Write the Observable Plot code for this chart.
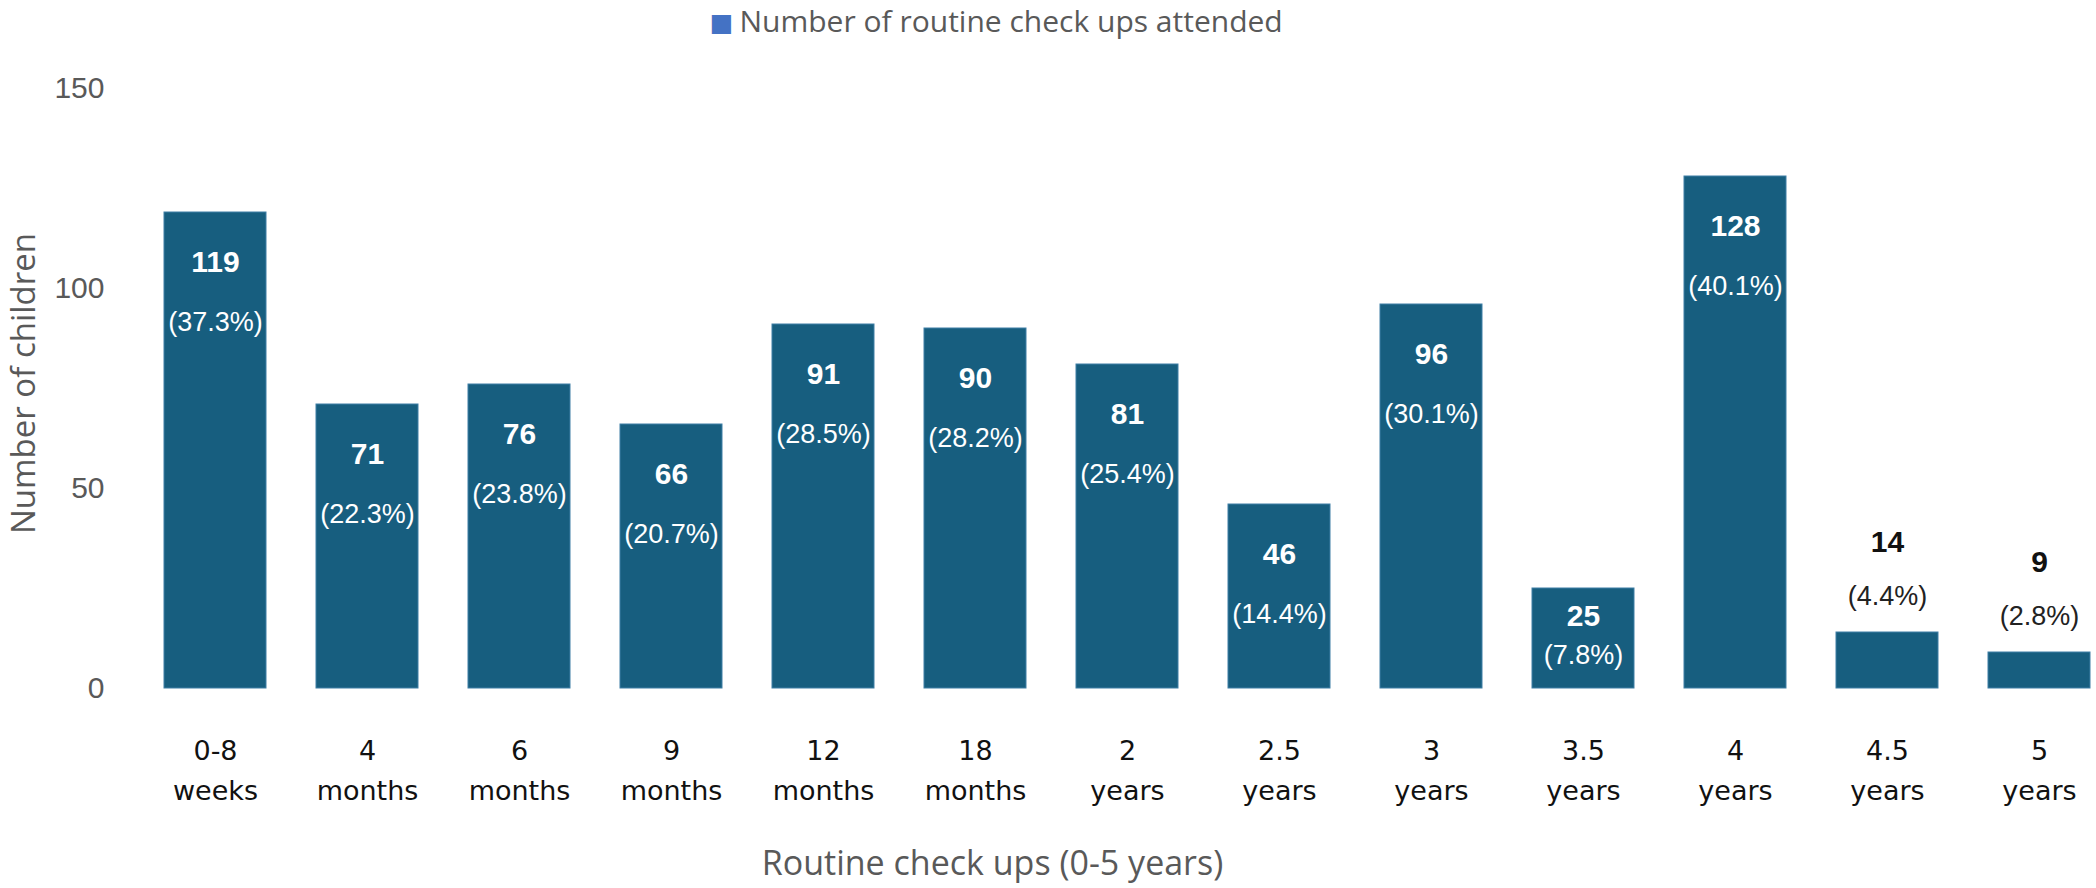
<!DOCTYPE html>
<html><head><meta charset="utf-8">
<script src="https://cdn.jsdelivr.net/npm/d3@7"></script>
<script src="https://cdn.jsdelivr.net/npm/@observablehq/plot@0.6"></script>
<style>
html,body{margin:0;padding:0;background:#fff;}
#wrap{width:2096px;height:888px;overflow:hidden;}
</style></head>
<body>
<div id="wrap"></div>
<script>
const legendLabel = "Number of routine check ups attended";
const checkups = ["0-8\nweeks","4\nmonths","6\nmonths","9\nmonths","12\nmonths","18\nmonths","2\nyears","2.5\nyears","3\nyears","3.5\nyears","4\nyears","4.5\nyears","5\nyears"];
const children = [119,71,76,66,91,90,81,46,96,25,128,14,9];
const percents = [37.3,22.3,23.8,20.7,28.5,28.2,25.4,14.4,30.1,7.8,40.1,4.4,2.8];
const yTicks = [0,50,100,150];
const yTitle = "Number of children";
const xTitle = "Routine check ups (0-5 years)";

const data = checkups.map((c, i) => ({checkup: c, n: children[i], pct: percents[i]}));
const big = data.filter(d => d.n >= 40);
const mid = data.filter(d => d.n >= 20 && d.n < 40);
const small = data.filter(d => d.n < 20);
const pctText = d => `(${d.pct.toFixed(1)}%)`;
const numText = d => String(d.n);
const LS = "Liberation Sans, Arial, sans-serif";

const chart = Plot.plot({
  width: 2096, height: 888,
  marginTop: 88, marginBottom: 200, marginLeft: 158, marginRight: 0,
  style: {background: "#fff", fontFamily: LS, overflow: "visible"},
  x: {domain: checkups, paddingInner: 0.331, paddingOuter: 0.0195, axis: null},
  y: {domain: [0, 150], axis: null},
  marks: [
    Plot.barY(data, {x: "checkup", y: "n", fill: "#175E7F", stroke: "#3f7fa6", strokeWidth: 1}),
    Plot.axisY({ticks: yTicks, tickSize: 0, tickPadding: 54, fontSize: 30, color: "#595959", label: null, fontFamily: LS}),
    Plot.text(data, {x: "checkup", frameAnchor: "bottom", text: "checkup", lineAnchor: "top", dy: 43, lineHeight: 1.48, fontSize: 27, fontFamily: "DejaVu Sans", fill: "#111"}),
    Plot.text(big, {x: "checkup", y: "n", text: numText, dy: 50, lineAnchor: "middle", fill: "white", fontWeight: "bold", fontSize: 30, fontFamily: LS}),
    Plot.text(big, {x: "checkup", y: "n", text: pctText, dy: 110, lineAnchor: "middle", fill: "white", fontSize: 27, fontFamily: LS}),
    Plot.text(mid, {x: "checkup", y: "n", text: numText, dy: 28, lineAnchor: "middle", fill: "white", fontWeight: "bold", fontSize: 30, fontFamily: LS}),
    Plot.text(mid, {x: "checkup", y: "n", text: pctText, dy: 67, lineAnchor: "middle", fill: "white", fontSize: 27, fontFamily: LS}),
    Plot.text(small, {x: "checkup", y: "n", text: numText, dy: -90, lineAnchor: "middle", fill: "#111", fontWeight: "bold", fontSize: 30, fontFamily: LS}),
    Plot.text(small, {x: "checkup", y: "n", text: pctText, dy: -36, lineAnchor: "middle", fill: "#222", fontSize: 27, fontFamily: LS}),
    Plot.text([yTitle], {frameAnchor: "left", rotate: -90, textAnchor: "middle", dx: -134, dy: -5, lineAnchor: "middle", fontSize: 33, fontFamily: "Open Sans", fill: "#595959"}),
    Plot.text([xTitle], {frameAnchor: "bottom", dx: -135, dy: 176, lineAnchor: "middle", fontSize: 34, fontFamily: "Open Sans", fill: "#595959"}),
    Plot.text(["\u25A0"], {frameAnchor: "top-left", dx: 563, dy: -66, textAnchor: "middle", lineAnchor: "middle", fontSize: 25, fontFamily: "DejaVu Sans", fill: "#4472C4"}),
    Plot.text([legendLabel], {frameAnchor: "top-left", dx: 581, dy: -66, textAnchor: "start", lineAnchor: "middle", fontSize: 30, fontFamily: "Open Sans", fill: "#595959"})
  ]
});
document.getElementById("wrap").appendChild(chart);
</script>
</body></html>
